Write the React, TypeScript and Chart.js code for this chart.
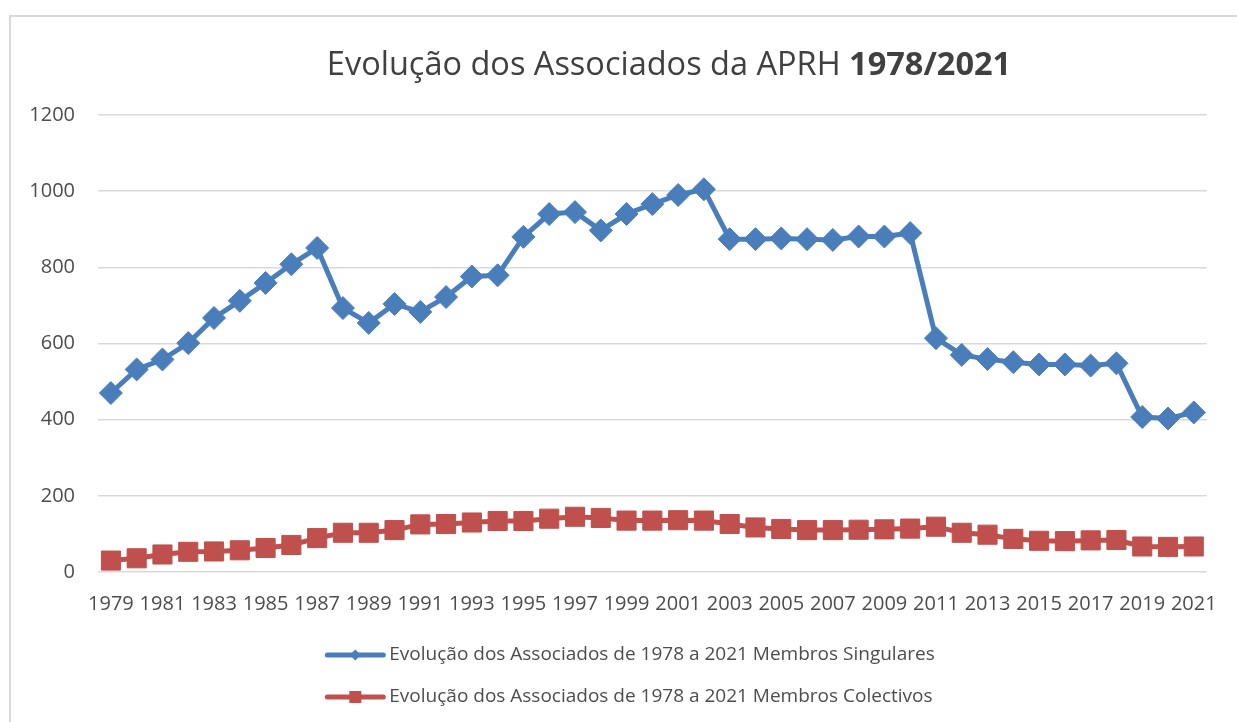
import React, { useEffect, useRef } from "react";
import { Chart, registerables } from "chart.js";

Chart.register(...registerables);

const years: string[] = [
  "1979", "1980", "1981", "1982", "1983", "1984", "1985", "1986", "1987", "1988",
  "1989", "1990", "1991", "1992", "1993", "1994", "1995", "1996", "1997", "1998",
  "1999", "2000", "2001", "2002", "2003", "2004", "2005", "2006", "2007", "2008",
  "2009", "2010", "2011", "2012", "2013", "2014", "2015", "2016", "2017", "2018",
  "2019", "2020", "2021",
];

const singulares: number[] = [
  470, 532, 558, 601, 667, 712, 759, 808, 851, 693,
  654, 704, 683, 722, 776, 779, 880, 940, 945, 897,
  940, 966, 990, 1005, 874, 874, 876, 874, 872, 881,
  881, 890, 614, 570, 559, 551, 545, 545, 542, 548,
  407, 403, 419,
];

const colectivos: number[] = [
  30, 36, 46, 53, 54, 57, 63, 71, 89, 103,
  103, 110, 125, 126, 130, 134, 134, 140, 145, 142,
  135, 135, 136, 135, 126, 117, 113, 110, 110, 111,
  112, 114, 119, 103, 98, 87, 82, 81, 83, 84,
  67, 66, 67,
];

const seriesLabels: string[] = [
  "Evolução dos Associados de 1978 a 2021 Membros Singulares",
  "Evolução dos Associados de 1978 a 2021 Membros Colectivos",
];

const titleNormal = "Evolução dos Associados da APRH ";
const titleBold = "1978/2021";

const FONT = "'Open Sans', 'Noto Sans', sans-serif";
const BLUE = "#4a7ebb";
const RED = "#c0504d";
const TEXT = "#4d4d4d";

const titlePlugin = {
  id: "mixedTitle",
  afterDraw(chart: any) {
    const ctx = chart.ctx;
    ctx.save();
    ctx.fillStyle = "#404040";
    ctx.textBaseline = "middle";
    ctx.font = `400 32.5px ${FONT}`;
    const w1 = ctx.measureText(titleNormal).width;
    ctx.font = `700 32.5px ${FONT}`;
    const w2 = ctx.measureText(titleBold).width;
    const cx = 669;
    const x0 = cx - (w1 + w2) / 2;
    const y = 66;
    ctx.textAlign = "left";
    ctx.font = `400 32.5px ${FONT}`;
    ctx.fillText(titleNormal, x0, y);
    ctx.font = `700 32.5px ${FONT}`;
    ctx.fillText(titleBold, x0 + w1, y);
    ctx.restore();
  },
};

const legendPlugin = {
  id: "lineLegend",
  afterDraw(chart: any) {
    const ctx = chart.ctx;
    ctx.save();
    ctx.font = `400 19px ${FONT}`;
    ctx.textBaseline = "middle";
    ctx.textAlign = "left";
    const sampleW = 60;
    const gap = 4;
    const widths = seriesLabels.map((l) => ctx.measureText(l).width);
    const maxW = Math.max(...widths);
    const total = sampleW + gap + maxW;
    const left = 630 - total / 2;
    const rows = [655, 697];
    chart.data.datasets.forEach((ds: any, i: number) => {
      const y = rows[i];
      ctx.strokeStyle = ds.borderColor;
      ctx.lineWidth = 5;
      ctx.lineCap = "round";
      ctx.beginPath();
      ctx.moveTo(left + 2, y);
      ctx.lineTo(left + sampleW - 2, y);
      ctx.stroke();
      ctx.fillStyle = ds.backgroundColor;
      const cx = left + sampleW / 2;
      if (ds.pointStyle === "rectRot") {
        const r = 5.5;
        ctx.beginPath();
        ctx.moveTo(cx, y - r);
        ctx.lineTo(cx + r, y);
        ctx.lineTo(cx, y + r);
        ctx.lineTo(cx - r, y);
        ctx.closePath();
        ctx.fill();
      } else {
        const s = 6;
        ctx.fillRect(cx - s, y - s, 2 * s, 2 * s);
      }
      ctx.fillStyle = TEXT;
      ctx.fillText(seriesLabels[i], left + sampleW + gap, y);
    });
    ctx.restore();
  },
};

export default function App() {
  const canvasRef = useRef<HTMLCanvasElement | null>(null);

  useEffect(() => {
    document.body.style.margin = "0";
    const canvas = canvasRef.current;
    if (!canvas) return;
    const chart = new Chart(canvas, {
      type: "line",
      data: {
        labels: years,
        datasets: [
          {
            label: seriesLabels[0],
            data: singulares,
            borderColor: BLUE,
            backgroundColor: BLUE,
            borderWidth: 5,
            pointStyle: "rectRot",
            pointRadius: 11.5,
            pointBorderWidth: 1,
            pointBackgroundColor: BLUE,
            pointBorderColor: BLUE,
            tension: 0,
          },
          {
            label: seriesLabels[1],
            data: colectivos,
            borderColor: RED,
            backgroundColor: RED,
            borderWidth: 5,
            pointStyle: "rect",
            pointRadius: 13.5,
            pointBorderWidth: 1,
            pointBackgroundColor: RED,
            pointBorderColor: RED,
            tension: 0,
          },
        ],
      },
      options: {
        responsive: false,
        animation: false,
        layout: { padding: { top: 115, right: 29, left: 0, bottom: 0 } },
        plugins: {
          legend: { display: false },
          title: { display: false },
          tooltip: { enabled: false },
        },
        scales: {
          x: {
            offset: true,
            grid: { display: false, drawTicks: false },
            border: { display: false },
            ticks: {
              autoSkip: false,
              maxRotation: 0,
              minRotation: 0,
              padding: 20,
              color: TEXT,
              font: { family: FONT, size: 20 },
              callback: (_v: any, i: number) => (i % 2 === 0 ? years[i] : ""),
            },
            afterFit: (axis: any) => {
              axis.height = 150;
            },
          },
          y: {
            min: 0,
            max: 1200,
            grid: { color: "#d9d9d9", lineWidth: 1.5, drawTicks: false },
            border: { display: false },
            ticks: {
              stepSize: 200,
              padding: 23,
              color: TEXT,
              font: { family: FONT, size: 20 },
              callback: (v: any) => String(v),
            },
            afterFit: (axis: any) => {
              axis.width = 98;
            },
          },
        },
      },
      plugins: [titlePlugin, legendPlugin],
    });
    return () => chart.destroy();
  }, []);

  return (
    <div
      style={{
        position: "fixed",
        left: 0,
        top: 0,
        width: 1237,
        height: 722,
        background: "#ffffff",
        overflow: "hidden",
      }}
    >
      <div
        style={{
          position: "absolute",
          left: 9,
          top: 15,
          width: 1250,
          height: 740,
          border: "2px solid #d9d9d9",
          boxSizing: "border-box",
        }}
      />
      <canvas
        ref={canvasRef}
        width={1237}
        height={722}
        style={{ position: "absolute", left: 0, top: 0 }}
      />
    </div>
  );
}
